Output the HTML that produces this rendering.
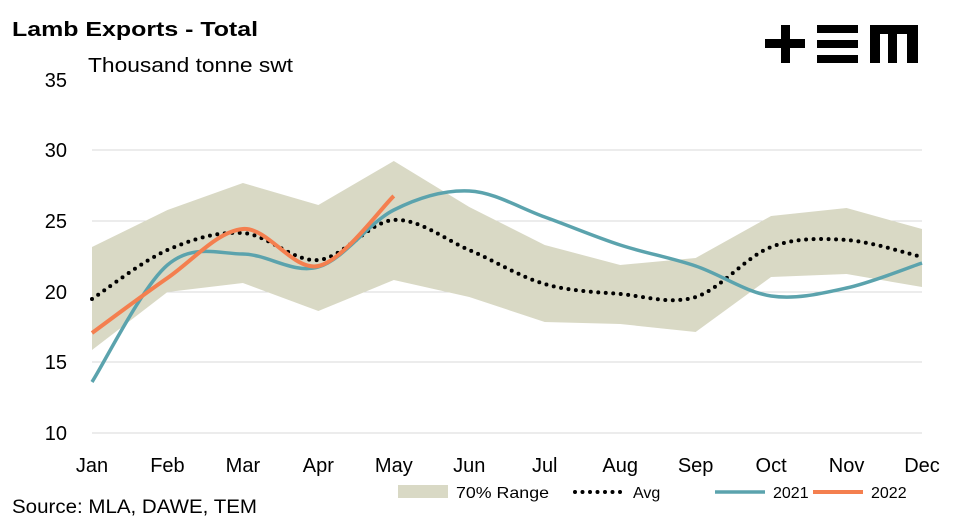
<!DOCTYPE html>
<html><head><meta charset="utf-8"><style>
body{margin:0;background:#fff;width:960px;height:523px;overflow:hidden}
text{font-family:"Liberation Sans",sans-serif}
</style></head><body>
<svg id="s" width="960" height="523" xmlns="http://www.w3.org/2000/svg">
<text x="12" y="36" font-size="20" font-weight="bold" fill="#000" textLength="246" lengthAdjust="spacingAndGlyphs">Lamb Exports - Total</text>
<text x="88" y="72" font-size="20" fill="#000" textLength="205" lengthAdjust="spacingAndGlyphs">Thousand tonne swt</text>
<g fill="#000">
<rect x="765" y="39" width="40" height="9"/><rect x="781" y="25" width="9" height="38"/>
<rect x="817" y="25" width="41" height="8"/><rect x="817" y="40" width="41" height="8"/><rect x="817" y="55" width="41" height="8"/>
<rect x="870" y="25" width="48" height="9"/><rect x="870" y="25" width="10" height="38"/><rect x="888" y="25" width="9" height="38"/><rect x="907" y="25" width="11" height="38"/>
</g>
<g stroke="#d9d9d9" stroke-width="1">
<line x1="92" x2="922" y1="150" y2="150"/><line x1="92" x2="922" y1="221" y2="221"/><line x1="92" x2="922" y1="292" y2="292"/><line x1="92" x2="922" y1="362" y2="362"/>
</g>
<path id="range" fill="#d9d9c5"/>
<line x1="92" x2="922" y1="433" y2="433" stroke="#d9d9d9"/>
<path id="avg" fill="none" stroke="#000" stroke-width="4" stroke-dasharray="0 7.5" stroke-linecap="round"/>
<path id="y21" fill="none" stroke="#5ba3ad" stroke-width="3.5"/>
<path id="y22" fill="none" stroke="#f47f4f" stroke-width="4"/>
<g font-size="20" fill="#000" text-anchor="end">
<text x="67" y="87">35</text><text x="67" y="157">30</text><text x="67" y="228">25</text><text x="67" y="299">20</text><text x="67" y="369">15</text><text x="67" y="440">10</text>
</g>
<g id="xl" font-size="20" fill="#000" text-anchor="middle"></g>
<text x="12" y="513" font-size="19" fill="#000" textLength="245" lengthAdjust="spacingAndGlyphs">Source: MLA, DAWE, TEM</text>
<rect x="398" y="485" width="50" height="13" fill="#d9d9c5"/>
<text x="456" y="498" font-size="16" textLength="93" lengthAdjust="spacingAndGlyphs">70% Range</text>
<line x1="575" x2="627" y1="492" y2="492" stroke="#000" stroke-width="4" stroke-dasharray="0 7.5" stroke-linecap="round"/>
<text x="633" y="498" font-size="16">Avg</text>
<line x1="715" x2="765" y1="492" y2="492" stroke="#5ba3ad" stroke-width="3.5"/>
<text x="773" y="498" font-size="16">2021</text>
<line x1="813" x2="863" y1="492" y2="492" stroke="#f47f4f" stroke-width="4"/>
<text x="871" y="498" font-size="16">2022</text>
</svg>
<script>
var X=[];for(var i=0;i<12;i++)X.push(92+i*830/11);
var M=["Jan","Feb","Mar","Apr","May","Jun","Jul","Aug","Sep","Oct","Nov","Dec"];
var g=document.getElementById('xl'),h='';
M.forEach(function(m,i){h+='<text x="'+X[i]+'" y="472">'+m+'</text>'});g.innerHTML=h;
function pts(a){return a.map(function(y,i){return [X[i],y]})}
function cr(p,start){var d=start?('M'+p[0][0]+','+p[0][1]):'';
for(var i=0;i<p.length-1;i++){var p0=p[i-1]||p[i],p1=p[i],p2=p[i+1],p3=p[i+2]||p2,t=6;
d+=' C'+(p1[0]+(p2[0]-p0[0])/t)+','+(p1[1]+(p2[1]-p0[1])/t)+' '+(p2[0]-(p3[0]-p1[0])/t)+','+(p2[1]-(p3[1]-p1[1])/t)+' '+p2[0]+','+p2[1];}
return d;}
var up=[247,210,183,205,161,207,245,265,258,216,208,229],lo=[350,292,283,311,280,297,322,324,332,277,274,287];
var d='M'+X[0]+','+up[0];up.forEach(function(y,i){if(i)d+=' L'+X[i]+','+y});
for(var i=11;i>=0;i--)d+=' L'+X[i]+','+lo[i];
document.getElementById('range').setAttribute('d',d+'Z');
document.getElementById('avg').setAttribute('d',cr(pts([299,250,233,260,220,250,284,294,297,247,240,257]),1));
document.getElementById('y21').setAttribute('d',cr(pts([382,265,254,267,210,191,217,245,266,296,288,263]),1));
document.getElementById('y22').setAttribute('d',cr(pts([333,278,229,266,196]),1));
</script>
</body></html>
